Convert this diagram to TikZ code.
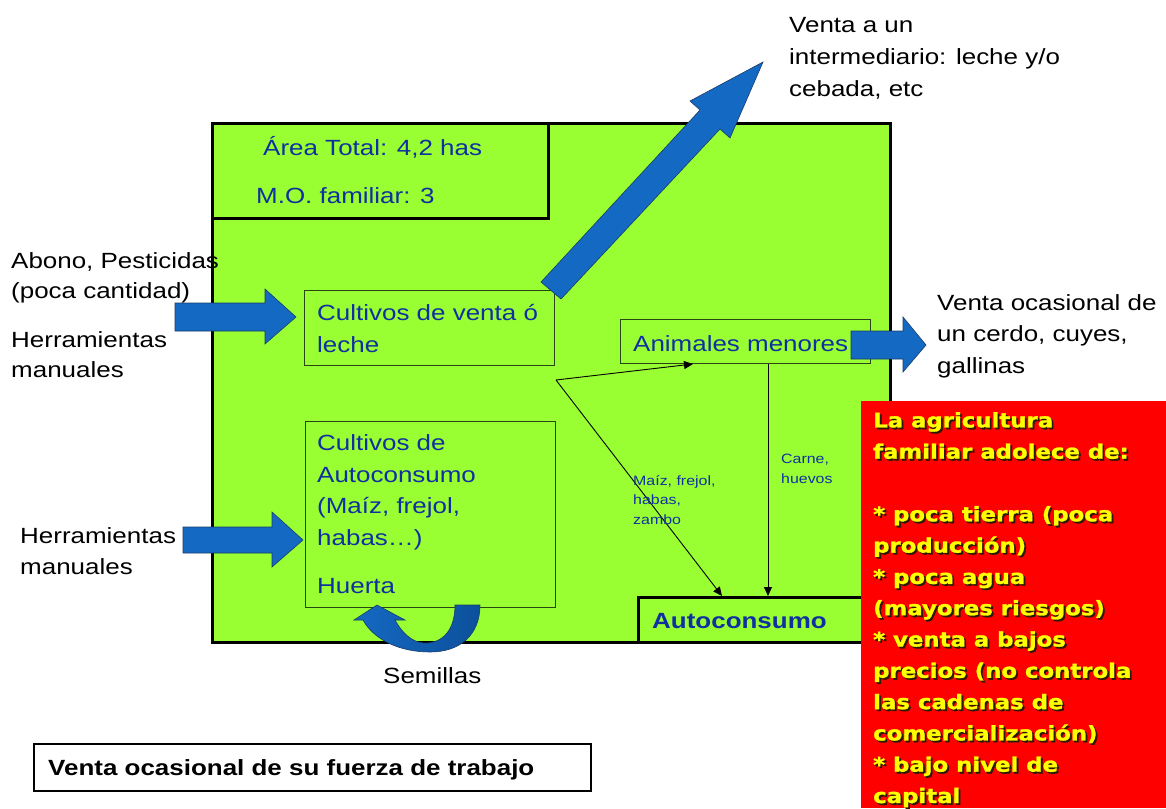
\documentclass[tikz,border=0pt]{standalone}
\usepackage{fontspec}
\setmainfont{Liberation Sans}[FakeStretch=1.18]
\newfontfamily\redfont{DejaVu Sans Bold}[FakeStretch=1.14, FakeBold=1.4]
\usetikzlibrary{calc,arrows.meta}
\definecolor{lime}{RGB}{153,255,51}
\definecolor{txtblue}{RGB}{16,48,160}
\definecolor{arrblue}{RGB}{20,105,195}
\definecolor{arrdark}{RGB}{12,80,155}
\definecolor{arredge}{RGB}{25,60,105}
\definecolor{boxedge}{RGB}{40,70,20}
\definecolor{redbox}{RGB}{255,0,0}
\definecolor{yel}{RGB}{255,255,0}
\definecolor{shadowc}{RGB}{45,25,0}
\tikzset{
  frame/.style={draw=black, line width=3pt, fill=lime, anchor=north west, inner sep=0pt},
  thinbox/.style={draw=boxedge, line width=1pt, anchor=north west, inner sep=0pt},
  big/.style={font=\fontsize{22}{31.5}\selectfont, inner sep=0pt, anchor=base west, align=left},
  bigblue/.style={big, text=txtblue},
  small/.style={font=\fontsize{13.5}{19.5}\selectfont, inner sep=0pt, anchor=base west, align=left, text=txtblue},
  redtxt/.style={font=\redfont\fontsize{20}{31.3}\selectfont, inner sep=0pt, anchor=base west, align=left},
  blockarrow/.style={fill=arrblue, draw=arredge, line width=0.6pt, line join=miter},
  thinarrow/.style={draw=black, line width=0.9pt, -{Triangle[length=9pt,width=8pt]}}
}
\begin{document}
\begin{tikzpicture}[x=1pt,y=-1pt]
\useasboundingbox (0,0) rectangle (1166,808);
\fill[white] (0,0) rectangle (1166,808);

% main farm frame
\node[frame, minimum width=678pt, minimum height=519pt] (farm) at (211,122) {};
\node[frame, minimum width=336pt, minimum height=95pt] (area) at (211,122) {};

% inner boxes
\node[thinbox, minimum width=250pt, minimum height=75pt] (venta) at (304,290) {};
\node[thinbox, minimum width=250pt, minimum height=186pt] (cauto) at (305,421) {};
\node[thinbox, minimum width=250pt, minimum height=44pt] (anim) at (620,319) {};
\node[frame, minimum width=270pt, minimum height=45pt] (autoc) at (637,596) {};

% connectors
\coordinate (src) at ($(cauto.north east)+(0,-41)$);
\coordinate (animin) at ($(anim.south west)+(73,0)$);
\coordinate (animout) at ($(anim.south west)+(148,0)$);
\coordinate (autin1) at ($(autoc.north west)+(85,0)$);
\coordinate (autin2) at ($(autoc.north west)+(131,0)$);
\draw[thinarrow] (src) -- (animin);
\draw[thinarrow] (src) -- (autin1);
\draw[thinarrow] (animout) -- (autin2);

% block arrows
\draw[blockarrow] (175,303) -- (265,303) -- (265,289) -- (296,317) -- (265,344) -- (265,331) -- (175,331) -- cycle;
\draw[blockarrow] (183,527) -- (272,527) -- (272,512) -- (303,540) -- (272,567) -- (272,553) -- (183,553) -- cycle;
\draw[blockarrow] (851,331) -- (903,331) -- (903,317) -- (926,345) -- (903,372) -- (903,359) -- (851,359) -- cycle;
\draw[blockarrow] (541,282) -- (700,110) -- (690,101) -- (763,62) -- (730,138) -- (720,129) -- (561,299) -- cycle;

% seeds curved arrow
\shade[left color=arrblue, right color=arrdark, draw=arredge, line width=0.6pt]
  (377,605) -- (405,620) -- (395,620)
  .. controls (405,638) and (417,644) .. (428,643)
  .. controls (447,641) and (455,625) .. (455,605)
  -- (480,605)
  .. controls (480,635) and (460,652) .. (430,652)
  .. controls (400,652) and (374,640) .. (363,620)
  -- (354,620) -- cycle;

% red box
\node[fill=redbox, draw=none, anchor=north west, inner sep=0pt, minimum width=305pt, minimum height=407pt] (red) at (861,401) {};

% texts (anchor = baseline of the last line)
\node[big, font=\fontsize{22}{32}\selectfont] (t1) at (789,96) {Venta a un\\intermediario: leche y/o\\cebada, etc};
\node[bigblue] (t2) at (263,155) {Área Total: 4,2 has};
\node[bigblue] (t3) at (256,203) {M.O. familiar: 3};
\node[big, font=\fontsize{22}{30}\selectfont] (t4) at (11,298) {Abono, Pesticidas\\(poca cantidad)};
\node[big, font=\fontsize{22}{30}\selectfont] (t5) at (11,377) {Herramientas\\manuales};
\node[big, font=\fontsize{22}{31}\selectfont] (t6) at (20,574) {Herramientas\\manuales};
\node[bigblue, font=\fontsize{22}{32}\selectfont] (t7) at (317,352) {Cultivos de venta ó\\leche};
\node[bigblue, font=\fontsize{22}{31.5}\selectfont] (t8) at (317,545) {Cultivos de\\Autoconsumo\\(Maíz, frejol,\\habas…)};
\node[bigblue] (t9) at (317,593) {Huerta};
\node[bigblue] (t10) at (633,351) {Animales menores};
\node[bigblue, font=\fontsize{22}{31.5}\selectfont\bfseries] (t11) at (652,628) {Autoconsumo};
\node[big] (t12) at (937,373) {Venta ocasional de\\un cerdo, cuyes,\\gallinas};
\node[big] (t13) at (383,683) {Semillas};
\node[small] (t14) at (633,524) {Maíz, frejol,\\habas,\\zambo};
\node[small, font=\fontsize{13.5}{20}\selectfont] (t15) at (781,483) {Carne,\\huevos};

% bottom box
\node[draw=black, line width=2pt, anchor=north west, inner sep=0pt, minimum width=557pt, minimum height=47pt] (fuerza) at (33,743) {};
\node[big, font=\fontsize{22}{31.5}\selectfont\bfseries] (t16) at (48,775) {Venta ocasional de su fuerza de trabajo};

% red text with shadow
\node[redtxt, text=shadowc] (rs) at (874.8,804.8) {La agricultura\\familiar adolece de:\\[31.3pt]* poca tierra (poca\\producción)\\* poca agua\\(mayores riesgos)\\* venta a bajos\\precios (no controla\\las cadenas de\\comercialización)\\* bajo nivel de\\capital};
\node[redtxt, text=yel] (rt) at (873,803) {La agricultura\\familiar adolece de:\\[31.3pt]* poca tierra (poca\\producción)\\* poca agua\\(mayores riesgos)\\* venta a bajos\\precios (no controla\\las cadenas de\\comercialización)\\* bajo nivel de\\capital};
\end{tikzpicture}
\end{document}
